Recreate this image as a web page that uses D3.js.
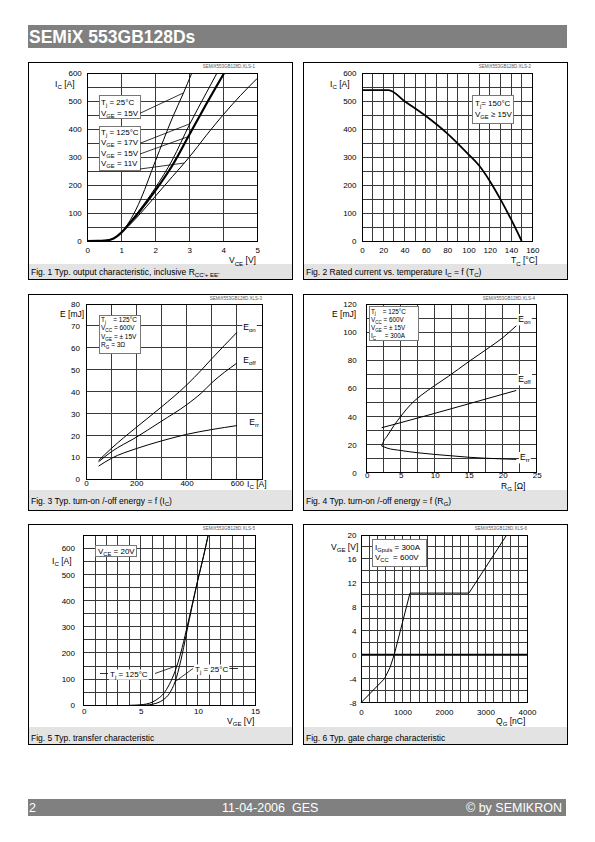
<!DOCTYPE html>
<html><head><meta charset="utf-8">
<script src="https://cdn.jsdelivr.net/npm/d3@7"></script>
<style>
body{margin:0;background:#fff}
svg{display:block}
text{font-family:"Liberation Sans",Arial,Helvetica,sans-serif;white-space:pre}
</style>
</head><body>
<svg id="c" width="595" height="842"></svg>
<script>
// ================= DATA =================
// Fig.1  Ic [A] vs Vce [V]
const fig1_25C_15V  = [[0,0],[0.3,0.3],[0.5,1.5],[0.7,6],[0.85,15],[1.0,30],[1.2,62],[1.5,130],[2.0,285],[2.5,440],[2.83,530],[3.07,600]];
const fig1_125C_17V = [[0,0],[0.3,0.2],[0.5,1.2],[0.7,5.5],[0.85,15],[1.0,30],[1.2,58],[1.5,105],[2.0,190],[2.5,290],[3.0,415],[3.5,530],[3.81,600]];
const fig1_125C_15V = [[0,0],[0.3,0.2],[0.5,1.2],[0.7,5.5],[0.85,15],[1.0,30],[1.2,57],[1.5,100],[2.0,180],[2.5,270],[3.0,380],[3.5,490],[4.02,600]];
const fig1_125C_11V = [[0,0],[0.3,0.2],[0.5,1.2],[0.7,5.5],[0.85,15],[1.0,30],[1.2,52],[1.5,90],[2.0,160],[2.5,230],[3.0,300],[3.5,378],[4.0,452],[4.5,520],[5.0,582]];
const fig1XTicks = [0,1,2,3,4,5];
const fig1YTicks = [0,100,200,300,400,500,600];

// Fig.2  Ic [A] vs Tc [°C]
const fig2Curve = [[0,540],[25,540],[40,500],[60,447],[80,385],[100,310],[110,270],[120,215],[130,150],[140,78],[150,0]];
const fig2XTicks = [0,20,40,60,80,100,120,140,160];
const fig2YTicks = [0,100,200,300,400,500,600];

// Fig.3  E [mJ] vs Ic [A]
const fig3Eon  = [[50,8.5],[100,14],[200,23.7],[300,33],[400,43],[460,50],[500,55],[600,67]];
const fig3Eoff = [[50,8],[100,12.5],[200,19.2],[300,26.5],[400,34],[460,39.5],[500,44],[600,53]];
const fig3Err  = [[50,6],[100,9.5],[200,14],[300,17.5],[400,20.5],[500,22.7],[600,24.5]];
const fig3XTicks = [0,200,400,600];
const fig3YTicks = [0,10,20,30,40,50,60,70,80];

// Fig.4  E [mJ] vs Rg [Ohm]
const fig4Eon  = [[2.2,19],[2.5,22.5],[3,26],[4,33.5],[5,40],[6,46],[7,51],[8,55],[10,62],[12,68.5],[15,79],[18,89],[20,96],[22,104.5]];
const fig4Eoff = [[2.2,32],[5,35.6],[10,42.2],[15,49],[20,55.8],[22,58.5]];
const fig4Err  = [[2.2,19],[3,17.5],[5,15.8],[7.5,14.2],[10,13],[12.5,12],[15,11],[17.5,10.3],[20,9.8],[22,9.5]];
const fig4XTicks = [0,5,10,15,20,25];
const fig4YTicks = [0,20,40,60,80,100,120];

// Fig.5  Ic [A] vs Vge [V]
const fig5_125C = [[4,0],[5,2],[5.5,5],[6,12],[6.5,25],[7,45],[7.5,80],[8,130],[8.5,200],[9,290],[9.5,385],[10,480],[10.5,570],[10.9,650]];
const fig5_25C  = [[5,0],[5.5,1],[6,4],[6.5,10],[7,22],[7.5,45],[8,90],[8.5,170],[9,275],[9.5,380],[10,480],[10.5,572],[10.9,650]];
const fig5XTicks = [0,5,10,15];
const fig5YTicks = [0,100,200,300,400,500,600];

// Fig.6  Vge [V] vs Qg [nC]
const fig6Curve = [[0,-8],[565,-4],[700,-2.1],[800,0],[1180,10.3],[2600,10.3],[3510,20]];
const fig6XTicks = [0,1000,2000,3000,4000];
const fig6YTicks = [-8,-4,0,4,8,12,16,20];

// ================= DRAWING =================
const svg = d3.select("#c");

function rich(g, x, y, parts, size, anchor, fill){
  const t = g.append("text").attr("x",x).attr("y",y).attr("font-size",size)
    .attr("text-anchor",anchor||"start").attr("fill",fill||"#000");
  let shift = 0;
  parts.forEach(p=>{
    const sub = Array.isArray(p);
    const ts = t.append("tspan").text(sub ? p[0] : p);
    if(sub){ const s = size*0.28; ts.attr("font-size",size*0.72).attr("dy", s-shift); shift = s; }
    else if(shift){ ts.attr("dy",-shift); shift = 0; }
  });
  return t;
}
function interp(data, xv){
  for(let i=1;i<data.length;i++){
    if(xv<=data[i][0]){const [x0,y0]=data[i-1],[x1,y1]=data[i];return y0+(y1-y0)*(xv-x0)/(x1-x0);}
  }
  return data[data.length-1][1];
}
function gridVals(dom, step){
  const n = Math.round((dom[1]-dom[0])/step);
  return d3.range(n+1).map(i=>dom[0]+i*step);
}
function legendBox(g, box, rows, size, tx){
  g.append("rect").attr("x",box[0]).attr("y",box[1]).attr("width",box[2]-box[0]).attr("height",box[3]-box[1])
    .attr("fill","#fff").attr("stroke","#777").attr("stroke-width",1).attr("shape-rendering","crispEdges");
  rows.forEach(r=>rich(g, tx, r[1], r[0], size));
}
function labelBg(g, x, y, parts, size){
  const t = rich(g, x, y, parts, size);
  const bb = t.node().getBBox();
  g.insert("rect", ()=>t.node()).attr("x",bb.x-1).attr("y",bb.y).attr("width",bb.width+2).attr("height",bb.height).attr("fill","#fff");
  return t;
}
function curve(g, x, y, data, w, kind){
  g.append("path").datum(data).attr("fill","none").attr("stroke","#000").attr("stroke-width",w)
    .attr("stroke-linejoin","round")
    .attr("d", d3.line().x(d=>x(d[0])).y(d=>y(d[1])).curve(kind||d3.curveMonotoneX));
}
function leader(g, x1,y1,x2,y2){
  g.append("line").attr("x1",x1).attr("y1",y1).attr("x2",x2).attr("y2",y2).attr("stroke","#000").attr("stroke-width",0.8);
}

function drawPanel(c){
  const g = svg.append("g");
  const [fx0,fy0,fx1,fy1] = c.frame;
  g.append("rect").attr("x",fx0).attr("y",fy0).attr("width",fx1-fx0).attr("height",fy1-fy0)
    .attr("fill","#fff").attr("stroke","#000").attr("stroke-width",1).attr("shape-rendering","crispEdges");
  g.append("rect").attr("x",fx0+1).attr("y",c.bandTop).attr("width",fx1-fx0-1).attr("height",fy1-c.bandTop)
    .attr("fill","#e3e3e3").attr("shape-rendering","crispEdges");
  rich(g, fx0+3, c.capY, c.caption, 8.5);
  const {l,r,t,b} = c.plot;
  const x = d3.scaleLinear().domain(c.xDomain).range([l,r]);
  const y = d3.scaleLinear().domain(c.yDomain).range([b,t]);
  const grid = g.append("g").attr("stroke","#3a3a3a").attr("stroke-width",1).attr("shape-rendering","crispEdges");
  grid.selectAll(null).data(gridVals(c.xDomain,c.xGrid)).join("line")
    .attr("x1",d=>x(d)).attr("x2",d=>x(d)).attr("y1",t).attr("y2",b);
  grid.selectAll(null).data(gridVals(c.yDomain,c.yGrid)).join("line")
    .attr("y1",d=>y(d)).attr("y2",d=>y(d)).attr("x1",l).attr("x2",r);
  g.append("rect").attr("x",l).attr("y",t).attr("width",r-l).attr("height",b-t)
    .attr("fill","none").attr("stroke","#000").attr("stroke-width",1).attr("shape-rendering","crispEdges");
  const xa = g.append("g").attr("transform",`translate(0,${b})`)
    .call(d3.axisBottom(x).tickValues(c.xTicks).tickSize(0).tickPadding(c.xPad).tickFormat(d=>String(d)));
  xa.select(".domain").remove();
  xa.attr("font-family",null).attr("font-size",8);
  const ya = g.append("g").attr("transform",`translate(${l},0)`)
    .call(d3.axisLeft(y).tickValues(c.yTicks).tickSize(0).tickPadding(c.yPad).tickFormat(d=>String(d)));
  ya.select(".domain").remove();
  ya.attr("font-family",null).attr("font-size",8);
  rich(g, c.yTitle[0], c.yTitle[1], c.yTitle[2], 8.5);
  rich(g, c.xTitle[0], c.xTitle[1], c.xTitle[2], 8.5);
  g.append("text").attr("x",c.file[0]).attr("y",c.file[1]).attr("text-anchor","end")
    .attr("font-size",4.5).attr("fill","#555").text(c.file[2]);
  c.extra(g, x, y);
}

// Header / footer
svg.append("rect").attr("x",28).attr("y",25).attr("width",539).attr("height",23).attr("fill","#808080");
svg.append("text").attr("x",29).attr("y",42.5).attr("font-size",17.5).attr("font-weight","bold").attr("fill","#fff").text("SEMiX 553GB128Ds");
svg.append("rect").attr("x",28).attr("y",799).attr("width",538).attr("height",17).attr("fill","#808080");
svg.append("text").attr("x",29).attr("y",811.5).attr("font-size",12.5).attr("fill","#fff").text("2");
svg.append("text").attr("x",222).attr("y",811.5).attr("font-size",12.5).attr("fill","#fff").text("11-04-2006  GES");
svg.append("text").attr("x",562).attr("y",811.5).attr("font-size",12.5).attr("fill","#fff").attr("text-anchor","end").text("© by SEMIKRON");

// ---- Fig 1
drawPanel({
  frame:[28,62,292,279], bandTop:264, capY:275,
  caption:["Fig. 1 Typ. output characteristic, inclusive R",["CC'+ EE'"]],
  plot:{l:87.3,r:257.3,t:73.3,b:241}, xDomain:[0,5], yDomain:[0,600], xGrid:1, yGrid:50,
  xTicks:fig1XTicks, yTicks:fig1YTicks, xPad:6.3, yPad:5.5,
  yTitle:[55,87,["I",["C"]," [A]"]], xTitle:[229,263.3,["V",["CE"]," [V]"]],
  file:[255,68,"SEMiX553GB128D.XLS-1"],
  extra:(g,x,y)=>{
    curve(g,x,y,fig1_25C_15V,1);
    curve(g,x,y,fig1_125C_17V,1);
    curve(g,x,y,fig1_125C_11V,1);
    curve(g,x,y,fig1_125C_15V,2.2);
    legendBox(g,[99,95.5,140,118.5],[[["T",["j"]," = 25°C"],104.5],[["V",["GE"]," = 15V"],115.5]],8,101);
    legendBox(g,[99,126,140,170],[[["T",["j"]," = 125°C"],134.5],[["V",["GE"]," = 17V"],145],[["V",["GE"]," = 15V"],155.5],[["V",["GE"]," = 11V"],166]],8,101);
    leader(g,140,113.3,x(2.83),y(interp(fig1_25C_15V,2.83)));
    leader(g,140,143.3,x(3.02),y(interp(fig1_125C_17V,3.02)));
    leader(g,140,154,x(2.97),y(interp(fig1_125C_15V,2.97)));
    leader(g,140,169,x(2.85),y(interp(fig1_125C_11V,2.85)));
  }
});

// ---- Fig 2
drawPanel({
  frame:[303,62,567,279], bandTop:264, capY:275,
  caption:["Fig. 2 Rated current vs. temperature I",["C"]," = f (T",["C"],")"],
  plot:{l:362,r:532.3,t:73.3,b:241}, xDomain:[0,160], yDomain:[0,600], xGrid:10, yGrid:50,
  xTicks:fig2XTicks, yTicks:fig2YTicks, xPad:6.3, yPad:5.5,
  yTitle:[330,87,["I",["C"]," [A]"]], xTitle:[511,263.3,["T",["C"]," [°C]"]],
  file:[531,68,"SEMiX553GB128D.XLS-2"],
  extra:(g,x,y)=>{
    curve(g,x,y,fig2Curve,1.8);
    legendBox(g,[472.7,95.7,513.3,123.3],[[["T",["j"],"= 150°C"],105.5],[["V",["GE"]," ≥ 15V"],117]],8,475);
  }
});

// ---- Fig 3
drawPanel({
  frame:[28,294,292,510], bandTop:490, capY:503.5,
  caption:["Fig. 3 Typ. turn-on /-off energy = f (I",["C"],")"],
  plot:{l:86,r:262,t:304,b:479.3}, xDomain:[0,700], yDomain:[0,80], xGrid:100, yGrid:10,
  xTicks:fig3XTicks, yTicks:fig3YTicks, xPad:1.3, yPad:6,
  yTitle:[60,316.5,["E [mJ]"]], xTitle:[247,486.5,["I",["C"]," [A]"]],
  file:[262,299.5,"SEMiX553GB128D.XLS-3"],
  extra:(g,x,y)=>{
    curve(g,x,y,fig3Eon,1);
    curve(g,x,y,fig3Eoff,1);
    curve(g,x,y,fig3Err,1);
    labelBg(g,243.3,330,["E",["on"]],8.5);
    labelBg(g,243.3,363,["E",["off"]],8.5);
    labelBg(g,249.3,425,["E",["rr"]],8.5);
    legendBox(g,[99,315,140,353],[
      [["T",["j"],"    = 125°C"],321.8],[["V",["CC"]," = 600V"],330.3],
      [["V",["GE"]," = ± 15V"],338.8],[["R",["G"]," = 3Ω"],347.3]],6.5,101);
  }
});

// ---- Fig 4
drawPanel({
  frame:[303,294,567,510], bandTop:490, capY:503.5,
  caption:["Fig. 4 Typ. turn-on /-off energy = f (R",["G"],")"],
  plot:{l:366.7,r:536.7,t:304,b:472.7}, xDomain:[0,25], yDomain:[0,120], xGrid:2.5, yGrid:10,
  xTicks:fig4XTicks, yTicks:fig4YTicks, xPad:0, yPad:10,
  yTitle:[332,317,["E [mJ]"]], xTitle:[501,488.6,["R",["G"]," [Ω]"]],
  file:[535,299.5,"SEMiX553GB128D.XLS-4"],
  extra:(g,x,y)=>{
    curve(g,x,y,fig4Eon,1);
    curve(g,x,y,fig4Eoff,1);
    curve(g,x,y,fig4Err,1);
    labelBg(g,518.3,322,["E",["on"]],8.5);
    labelBg(g,518.3,382,["E",["off"]],8.5);
    labelBg(g,520,460,["E",["rr"]],8.5);
    legendBox(g,[369,306.7,418.3,340],[
      [["T",["j"],"    = 125°C"],313.5],[["V",["CC"]," = 600V"],321.8],
      [["V",["GE"]," = ± 15V"],330.1],[["I",["C"],"     = 300A"],338.4]],6.3,371);
  }
});

// ---- Fig 5
drawPanel({
  frame:[28,524,292,744], bandTop:727, capY:740.5,
  caption:["Fig. 5 Typ. transfer characteristic"],
  plot:{l:83.7,r:255,t:535.2,b:705.3}, xDomain:[0,15], yDomain:[0,650], xGrid:1, yGrid:50,
  xTicks:fig5XTicks, yTicks:fig5YTicks, xPad:3.5, yPad:8.7,
  yTitle:[52,564,["I",["C"]," [A]"]], xTitle:[227,723.5,["V",["GE"]," [V]"]],
  file:[255,529.5,"SEMiX553GB128D.XLS-5"],
  extra:(g,x,y)=>{
    curve(g,x,y,fig5_125C,1);
    curve(g,x,y,fig5_25C,1);
    legendBox(g,[95.7,545,136.7,556.7],[[["V",["CE"]," = 20V"],553.8]],8,98);
    leader(g,100,673.5,108,673.5);
    leader(g,155,673.5,x(8.15),y(interp(fig5_125C,8.15)));
    labelBg(g,110,676.5,["T",["j"]," = 125°C"],8);
    leader(g,229,668.5,238,668.5);
    leader(g,193,668.5,x(8.0),y(interp(fig5_25C,8.0)));
    labelBg(g,195,671.5,["T",["j"]," = 25°C"],8);
  }
});

// ---- Fig 6
drawPanel({
  frame:[303,524,567,744], bandTop:727, capY:740.5,
  caption:["Fig. 6 Typ. gate charge characteristic"],
  plot:{l:361,r:527,t:535,b:702.7}, xDomain:[0,4000], yDomain:[-8,20], xGrid:200, yGrid:2,
  xTicks:fig6XTicks, yTicks:fig6YTicks, xPad:7, yPad:4.5,
  yTitle:[331,549.5,["V",["GE"]," [V]"]], xTitle:[496,723.5,["Q",["G"]," [nC]"]],
  file:[527,529.5,"SEMiX553GB128D.XLS-6"],
  extra:(g,x,y)=>{
    g.append("line").attr("x1",x(0)).attr("x2",x(4000)).attr("y1",y(0)).attr("y2",y(0)).attr("stroke","#000").attr("stroke-width",2);
    curve(g,x,y,fig6Curve,1,d3.curveLinear);
    legendBox(g,[372.7,539.3,426.7,566],[[["I",["Gpuls"]," = 300A"],549.5],[["V",["CC"],"  = 600V"],559.8]],8,375);
  }
});
</script>
</body></html>
